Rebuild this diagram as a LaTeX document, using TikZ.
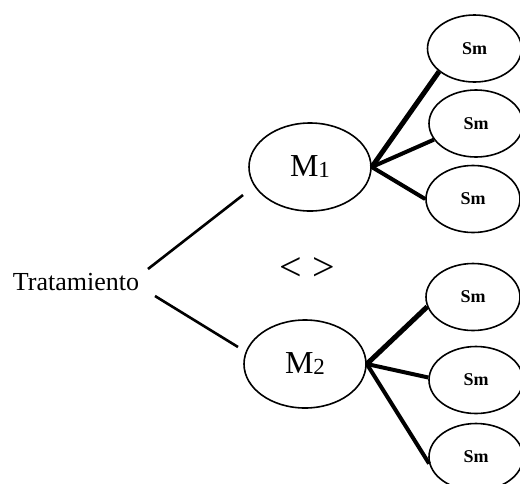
\documentclass[tikz,border=0pt]{standalone}
\usepackage{fontspec}
\setmainfont{Liberation Serif}
\usetikzlibrary{shapes.geometric}
\begin{document}
\begin{tikzpicture}[x=1pt,y={(0pt,-1pt)},
  oval/.style={draw,ellipse,line width=1.6pt,inner sep=0pt},
  mnode/.style={oval,minimum width=122pt,minimum height=88pt,font=\fontsize{32}{32}\selectfont},
  smnode/.style={oval,minimum width=94pt,minimum height=67pt,font=\bfseries\fontsize{18}{18}\selectfont},
  link/.style={line width=2.6pt},
  fan/.style={line width=4pt},
  fanb/.style={line width=5pt}]
\useasboundingbox (0,0) rectangle (520,483);
\node (T) at (76,282) {\fontsize{26}{26}\selectfont Tratamiento};
\node[mnode] (M1) at (310,167) {M\raisebox{-1pt}{\fontsize{23}{23}\selectfont 1}};
\node[mnode] (M2) at (305,364) {M\raisebox{-1pt}{\fontsize{23}{23}\selectfont 2}};
\node (NE) at (307,269) {\fontsize{40}{40}\selectfont < >};
\node[smnode] (S1) at (474.5,48.5) {Sm};
\node[smnode] (S2) at (476,123.5) {Sm};
\node[smnode] (S3) at (473,199) {Sm};
\node[smnode] (S4) at (473,297) {Sm};
\node[smnode] (S5) at (476,380) {Sm};
\node[smnode] (S6) at (476,457) {Sm};
\coordinate (a1) at (148,269);
\coordinate (a2) at (243,195);
\coordinate (b1) at (155,296);
\coordinate (b2) at (238,347);
\draw[link] (a1) -- (a2);
\draw[link] (b1) -- (b2);
\draw[fanb] (M1.east) -- (S1.213);
\draw[fan] (M1.east) -- (S2.201);
\draw[fan] (M1.east) -- (S3.180);
\draw[fanb] (M2.east) -- (S4.192);
\draw[fan] (M2.east) -- (S5.177);
\draw[fan] (M2.east) -- (S6.188);
\end{tikzpicture}
\end{document}
